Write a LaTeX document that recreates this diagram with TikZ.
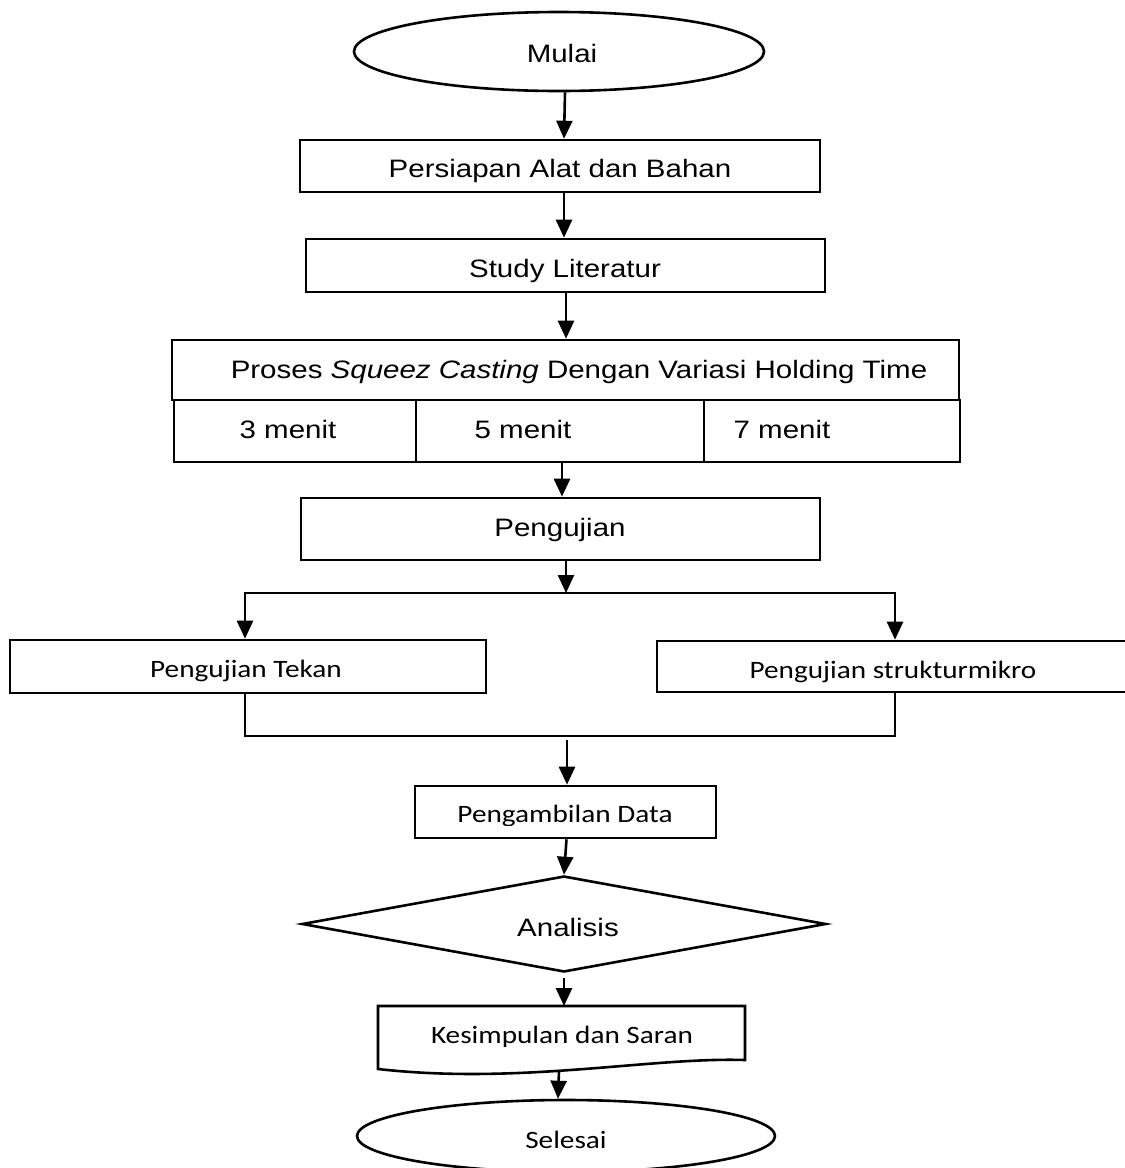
\documentclass[tikz,border=0pt]{standalone}
\usepackage{fontspec}
\setmainfont{Liberation Sans}[FakeStretch=1.17]
\newfontfamily\calfont{Carlito}[FakeStretch=1.17]
\usetikzlibrary{shapes.geometric,arrows.meta}
\begin{document}
\begin{tikzpicture}[x=0.5pt,y=-0.5pt,
  every node/.style={font=\fontsize{12.6pt}{15pt}\selectfont},
  box/.style={draw,line width=1.3pt,rectangle,inner sep=0pt},
  term/.style={draw,line width=1.3pt,ellipse,inner sep=0pt},
  lbl/.style={inner sep=0pt,anchor=base},
  cal/.style={font=\fontsize{12.5pt}{15pt}\selectfont\calfont},
  arr/.style={line width=1.3pt,-{Triangle[width=8pt,length=9pt]}},
  ln/.style={line width=1.3pt}]
\useasboundingbox (0,0) rectangle (1125,1168);
\clip (0,0) rectangle (1125,1168);

% shapes
\node[term,minimum width=205pt,minimum height=39.5pt] (mulai) at (559,51.5) {};
\node[box,minimum width=260pt,minimum height=26pt] (persiapan) at (560,166) {};
\node[box,minimum width=259.5pt,minimum height=26.5pt] (study) at (565.5,265.5) {};
\node[box,minimum width=393.5pt,minimum height=30pt] (proses) at (565.5,370) {};
\node[box,minimum width=121pt,minimum height=31pt] (c3) at (295,431) {};
\node[box,minimum width=144pt,minimum height=31pt] (c5) at (560,431) {};
\node[box,minimum width=128pt,minimum height=31pt] (c7) at (832,431) {};
\node[box,minimum width=259.5pt,minimum height=31pt] (pengujian) at (560.5,529) {};
\node[box,minimum width=238pt,minimum height=26.5pt] (tekan) at (248,666.5) {};
\node[box,minimum width=239pt,minimum height=25.5pt] (mikro) at (896,666.5) {};
\node[box,minimum width=150.5pt,minimum height=26pt] (data) at (565.5,812) {};
\node[draw,line width=1.3pt,diamond,inner sep=0pt,minimum width=262pt,minimum height=48pt] (ana) at (564,924) {};
\node[draw,line width=1.3pt,ellipse,inner sep=0pt,minimum width=209pt,minimum height=36pt] (selesai) at (566,1136) {};
% document shape
\coordinate (ktop) at (564,1006);
\coordinate (kbot) at (559,1071);
\draw[ln] (378,1006) -- (745,1006) -- (745,1060)
  .. controls (650,1057) and (520,1085) .. (378,1069) -- cycle;

% texts
\node[lbl] (tmulai) at (562,62) {Mulai};
\node[lbl] (tpersiapan) at (560,177) {Persiapan Alat dan Bahan};
\node[lbl] (tstudy) at (565,277) {Study Literatur};
\node[lbl] (tproses) at (579,378) {Proses \textit{Squeez Casting} Dengan Variasi Holding Time};
\node[lbl] (t3) at (288,438) {3 menit};
\node[lbl] (t5) at (523,438) {5 menit};
\node[lbl] (t7) at (782,438) {7 menit};
\node[lbl] (tpengujian) at (560,536) {Pengujian};
\node[lbl,cal] (ttekan) at (246,677) {Pengujian Tekan};
\begin{scope}
  \clip (657,640) rectangle (1125,682.5);
  \node[lbl,cal] (tmikro) at (893,678.5) {Pengujian strukturmikro};
\end{scope}
\begin{scope}
  \clip (415,786) rectangle (716,825);
  \node[lbl,cal] (tdata) at (565,822) {Pengambilan Data};
\end{scope}
\node[lbl] (tana) at (568,936) {Analisis};
\node[lbl,cal] (tkes) at (562,1043) {Kesimpulan dan Saran};
\node[lbl,cal] (tselesai) at (566,1148) {Selesai};

% connectors
\draw[arr] ([xshift=3pt]mulai.south) -- ([xshift=2pt]persiapan.north);
\draw[arr] ([xshift=2pt]persiapan.south) -- ([xshift=-0.75pt]study.north);
\draw[arr] ([xshift=0.25pt]study.south) -- ([xshift=0.25pt]proses.north);
\draw[arr] ([xshift=1pt]c5.south) -- ([xshift=0.75pt]pengujian.north);
\coordinate (split) at (566,593);
\draw[arr] (pengujian.south -| split) -- (split);
\draw[arr] (split) -| ([xshift=-1.5pt]tekan.north);
\draw[arr] (split) -| ([xshift=-0.5pt]mikro.north);
\coordinate (jl) at (245,736);
\coordinate (jr) at (895,736);
\coordinate (join) at (567,736);
\draw[ln] ([xshift=-1.5pt]tekan.south) -- (jl) -- (jr) -- ([xshift=-0.5pt]mikro.south);
\draw[arr] ([yshift=-2pt]join) -- (data.north -| join);
\draw[arr] ([xshift=0.5pt]data.south) -- (ana.north);
\draw[arr] ([yshift=-2.5pt]ana.south) -- (ktop);
\draw[arr] (kbot) -- ([xshift=-4pt]selesai.north);
\end{tikzpicture}
\end{document}
